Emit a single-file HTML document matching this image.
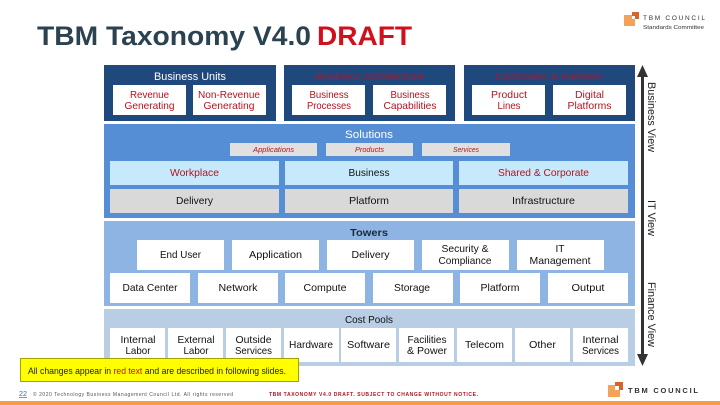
<!DOCTYPE html>
<html>
<head>
<meta charset="utf-8">
<style>
html,body{margin:0;padding:0;background:#fff;width:720px;height:405px;overflow:hidden}
svg{display:block}
text{font-family:"Liberation Sans",sans-serif;font-size:10.5px;fill:#111;text-anchor:middle}
.r{fill:#b5121f}
.w{fill:#fff}
.hr{fill:#b3122a;font-size:10.5px}
.i{fill:#b5121f;font-size:7px;font-style:italic}
</style>
</head>
<body>
<svg width="720" height="405" viewBox="0 0 720 405" xmlns="http://www.w3.org/2000/svg">
<!-- title -->
<text x="37" y="45" style="text-anchor:start;font-size:27px;font-weight:bold;fill:#2b4250" textLength="274" lengthAdjust="spacingAndGlyphs">TBM Taxonomy V4.0</text>
<text x="317" y="45" style="text-anchor:start;font-size:27px;font-weight:bold;fill:#d0101a" textLength="95" lengthAdjust="spacingAndGlyphs">DRAFT</text>

<!-- top logo -->
<rect x="624" y="15" width="11" height="11" fill="#f4a259"/>
<rect x="632" y="12" width="7" height="7" fill="#d9622b"/>
<rect x="632" y="16" width="3" height="3" fill="#fff"/>
<text x="643" y="20" style="text-anchor:start;font-size:6.5px;fill:#333" textLength="62" lengthAdjust="spacing">TBM COUNCIL</text>
<text x="643" y="29" style="text-anchor:start;font-size:5.5px;fill:#333" textLength="61" lengthAdjust="spacingAndGlyphs">Standards Committee</text>

<!-- header blocks -->
<g fill="#1f497d">
<rect x="104" y="65" width="172" height="56"/>
<rect x="284" y="65" width="171" height="56"/>
<rect x="464" y="65" width="171" height="56"/>
</g>
<g fill="#fff">
<rect x="113" y="85" width="73" height="30"/>
<rect x="193" y="85" width="73" height="30"/>
<rect x="292" y="85" width="73" height="30"/>
<rect x="373" y="85" width="73" height="30"/>
<rect x="472" y="85" width="73" height="30"/>
<rect x="553" y="85" width="73" height="30"/>
</g>
<text x="190" y="80" class="w" style="font-size:11px" textLength="72" lengthAdjust="spacingAndGlyphs">Business Units</text>
<text x="369.5" y="80" class="hr" textLength="108" lengthAdjust="spacingAndGlyphs">Business Architecture</text>
<text x="549" y="80" class="hr" textLength="108" lengthAdjust="spacingAndGlyphs">Customers &amp; Partners</text>

<text x="149.500" y="98" class="r" textLength="39" lengthAdjust="spacingAndGlyphs">Revenue</text>
<text x="149.500" y="109" class="r" textLength="50" lengthAdjust="spacingAndGlyphs">Generating</text>
<text x="229" y="98" class="r" textLength="62" lengthAdjust="spacingAndGlyphs">Non-Revenue</text>
<text x="229" y="109" class="r" textLength="51" lengthAdjust="spacingAndGlyphs">Generating</text>
<text x="329" y="98" class="r" textLength="39" lengthAdjust="spacingAndGlyphs">Business</text>
<text x="329" y="109" class="r" textLength="44" lengthAdjust="spacingAndGlyphs">Processes</text>
<text x="410" y="98" class="r" textLength="39" lengthAdjust="spacingAndGlyphs">Business</text>
<text x="410" y="109" class="r" textLength="53" lengthAdjust="spacingAndGlyphs">Capabilities</text>
<text x="509" y="98" class="r" textLength="36" lengthAdjust="spacingAndGlyphs">Product</text>
<text x="509" y="109" class="r" textLength="23" lengthAdjust="spacingAndGlyphs">Lines</text>
<text x="589.500" y="98" class="r" textLength="29" lengthAdjust="spacingAndGlyphs">Digital</text>
<text x="589.500" y="109" class="r" textLength="44" lengthAdjust="spacingAndGlyphs">Platforms</text>

<!-- solutions -->
<rect x="104" y="124" width="531" height="94" fill="#558ed5"/>
<text x="369" y="138" class="w" style="font-size:11px" textLength="48" lengthAdjust="spacingAndGlyphs">Solutions</text>
<g fill="#e0e0e0">
<rect x="230" y="143" width="87" height="13"/>
<rect x="326" y="143" width="87" height="13"/>
<rect x="422" y="143" width="88" height="13"/>
</g>
<text x="273.500" y="152" class="i" textLength="41" lengthAdjust="spacingAndGlyphs">Applications</text>
<text x="369.500" y="152" class="i" textLength="29" lengthAdjust="spacingAndGlyphs">Products</text>
<text x="466" y="152" class="i" textLength="26" lengthAdjust="spacingAndGlyphs">Services</text>
<g fill="#c6e9fb">
<rect x="110" y="161" width="169" height="24"/>
<rect x="285" y="161" width="168" height="24"/>
<rect x="459" y="161" width="169" height="24"/>
</g>
<g fill="#d9d9d9">
<rect x="110" y="189" width="169" height="24"/>
<rect x="285" y="189" width="168" height="24"/>
<rect x="459" y="189" width="169" height="24"/>
</g>
<text x="194.500" y="176" class="r" textLength="49" lengthAdjust="spacingAndGlyphs">Workplace</text>
<text x="369" y="176" textLength="41" lengthAdjust="spacingAndGlyphs">Business</text>
<text x="543.500" y="176" class="r" textLength="91" lengthAdjust="spacingAndGlyphs">Shared &amp; Corporate</text>
<text x="194.500" y="204" textLength="37" lengthAdjust="spacingAndGlyphs">Delivery</text>
<text x="369" y="204" textLength="40" lengthAdjust="spacingAndGlyphs">Platform</text>
<text x="543.500" y="204" textLength="63" lengthAdjust="spacingAndGlyphs">Infrastructure</text>

<!-- towers -->
<rect x="104" y="221" width="531" height="85" fill="#8eb4e3"/>
<text x="369" y="236" style="font-size:10.500px;font-weight:bold;fill:#1b2a3a" textLength="38" lengthAdjust="spacingAndGlyphs">Towers</text>
<g fill="#fff">
<rect x="137" y="240" width="87" height="30"/>
<rect x="232" y="240" width="87" height="30"/>
<rect x="327" y="240" width="87" height="30"/>
<rect x="422" y="240" width="87" height="30"/>
<rect x="517" y="240" width="87" height="30"/>
<rect x="110" y="273" width="80" height="30"/>
<rect x="198" y="273" width="80" height="30"/>
<rect x="285" y="273" width="80" height="30"/>
<rect x="373" y="273" width="80" height="30"/>
<rect x="460" y="273" width="80" height="30"/>
<rect x="548" y="273" width="80" height="30"/>
</g>
<text x="180.500" y="258" textLength="41" lengthAdjust="spacingAndGlyphs">End User</text>
<text x="275.500" y="258" textLength="53" lengthAdjust="spacingAndGlyphs">Application</text>
<text x="370.500" y="258" textLength="38" lengthAdjust="spacingAndGlyphs">Delivery</text>
<text x="465" y="252" textLength="47" lengthAdjust="spacingAndGlyphs">Security &amp;</text>
<text x="465" y="264" textLength="53" lengthAdjust="spacingAndGlyphs">Compliance</text>
<text x="560" y="252" textLength="9" lengthAdjust="spacingAndGlyphs">IT</text>
<text x="560" y="264" textLength="61" lengthAdjust="spacingAndGlyphs">Management</text>
<text x="150" y="291" textLength="55" lengthAdjust="spacingAndGlyphs">Data Center</text>
<text x="238" y="291" textLength="39" lengthAdjust="spacingAndGlyphs">Network</text>
<text x="325" y="291" textLength="43" lengthAdjust="spacingAndGlyphs">Compute</text>
<text x="412" y="291" textLength="36" lengthAdjust="spacingAndGlyphs">Storage</text>
<text x="500" y="291" textLength="39" lengthAdjust="spacingAndGlyphs">Platform</text>
<text x="588" y="291" textLength="33" lengthAdjust="spacingAndGlyphs">Output</text>

<!-- cost pools -->
<rect x="104" y="309" width="531" height="57" fill="#b9cde5"/>
<text x="369" y="323" textLength="48" lengthAdjust="spacingAndGlyphs">Cost Pools</text>
<g fill="#fff">
<rect x="110" y="328" width="55" height="34"/>
<rect x="168" y="328" width="55" height="34"/>
<rect x="226" y="328" width="55" height="34"/>
<rect x="284" y="328" width="55" height="34"/>
<rect x="341" y="328" width="55" height="34"/>
<rect x="399" y="328" width="55" height="34"/>
<rect x="457" y="328" width="55" height="34"/>
<rect x="515" y="328" width="55" height="34"/>
<rect x="573" y="328" width="55" height="34"/>
</g>
<text x="138" y="343" textLength="35" lengthAdjust="spacingAndGlyphs">Internal</text>
<text x="138" y="354" textLength="25" lengthAdjust="spacingAndGlyphs">Labor</text>
<text x="196" y="343" textLength="37" lengthAdjust="spacingAndGlyphs">External</text>
<text x="196" y="354" textLength="25" lengthAdjust="spacingAndGlyphs">Labor</text>
<text x="253.500" y="343" textLength="36" lengthAdjust="spacingAndGlyphs">Outside</text>
<text x="253.500" y="354" textLength="37" lengthAdjust="spacingAndGlyphs">Services</text>
<text x="311" y="348" textLength="44" lengthAdjust="spacingAndGlyphs">Hardware</text>
<text x="368.500" y="348" textLength="43" lengthAdjust="spacingAndGlyphs">Software</text>
<text x="427" y="343" textLength="39" lengthAdjust="spacingAndGlyphs">Facilities</text>
<text x="427" y="354" textLength="40" lengthAdjust="spacingAndGlyphs">&amp; Power</text>
<text x="484.500" y="348" textLength="39" lengthAdjust="spacingAndGlyphs">Telecom</text>
<text x="542.500" y="348" textLength="27" lengthAdjust="spacingAndGlyphs">Other</text>
<text x="600.500" y="343" textLength="36" lengthAdjust="spacingAndGlyphs">Internal</text>
<text x="600.500" y="354" textLength="37" lengthAdjust="spacingAndGlyphs">Services</text>

<!-- yellow note -->
<rect x="20.500" y="358.500" width="278" height="23" fill="#ffff00" stroke="#a8a000" stroke-width="1"/>
<text x="28" y="374" style="text-anchor:start;font-size:9.500px;fill:#222" textLength="258" lengthAdjust="spacingAndGlyphs">All changes appear in <tspan fill="#d01010">red text</tspan> and are described in following slides.</text>

<!-- vertical arrow -->
<rect x="641" y="75" width="3" height="282" fill="#333"/>
<polygon points="642.500,65 648,77 637,77" fill="#333"/>
<polygon points="642.500,366 648,354 637,354" fill="#333"/>
<g>
<text transform="translate(648,117) rotate(90)" style="font-size:11px;fill:#222" textLength="70" lengthAdjust="spacingAndGlyphs">Business View</text>
<text transform="translate(648,218) rotate(90)" style="font-size:11px;fill:#222" textLength="36" lengthAdjust="spacingAndGlyphs">IT View</text>
<text transform="translate(648,314.500) rotate(90)" style="font-size:11px;fill:#222" textLength="65" lengthAdjust="spacingAndGlyphs">Finance View</text>
</g>

<!-- footer -->
<text x="19" y="396" style="text-anchor:start;font-size:7px;fill:#2e74b5;text-decoration:underline" textLength="8" lengthAdjust="spacingAndGlyphs">22</text>
<text x="33" y="396" style="text-anchor:start;font-size:5px;fill:#555" textLength="200" lengthAdjust="spacing">© 2020 Technology Business Management Council Ltd. All rights reserved</text>
<text x="269" y="396" style="text-anchor:start;font-size:5px;font-weight:bold;fill:#b5121f" textLength="209" lengthAdjust="spacing">TBM TAXONOMY V4.0 DRAFT. SUBJECT TO CHANGE WITHOUT NOTICE.</text>

<!-- bottom logo -->
<rect x="608" y="385" width="12" height="12" fill="#f4a259"/>
<rect x="615" y="382" width="8" height="8" fill="#d9622b"/>
<rect x="615" y="386" width="4" height="4" fill="#fff"/>
<text x="628" y="393" style="text-anchor:start;font-size:7.500px;font-weight:bold;fill:#333" textLength="70" lengthAdjust="spacing">TBM COUNCIL</text>
<rect x="0" y="401" width="720" height="4" fill="#f79c45"/>
</svg>
</body>
</html>
